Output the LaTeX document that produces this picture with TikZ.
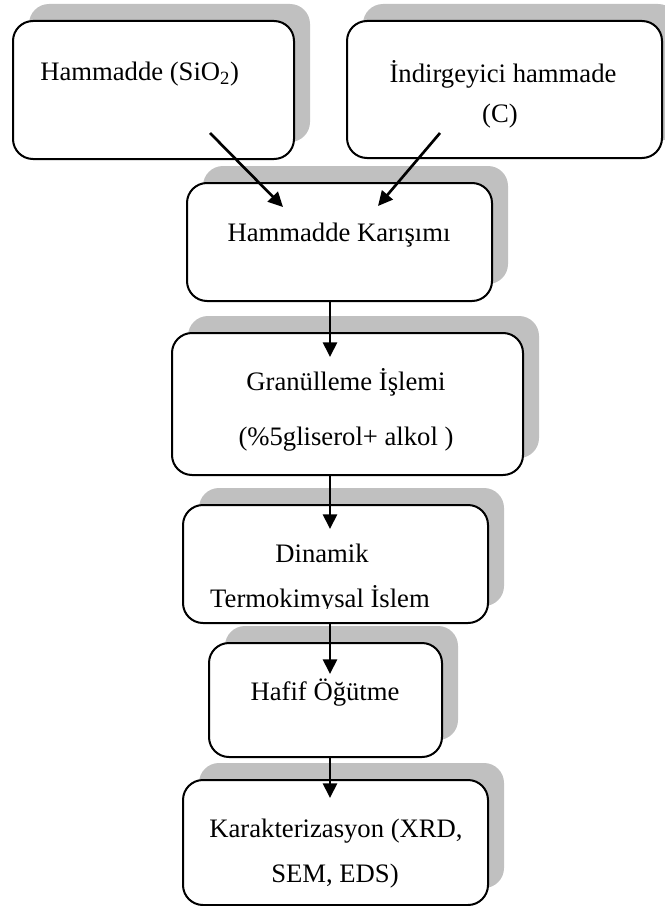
\documentclass[tikz,border=0pt]{standalone}
\usepackage{fontspec}
\setmainfont{Liberation Serif}
\usetikzlibrary{arrows.meta,shadows}
\definecolor{shadowgray}{RGB}{192,192,192}
\tikzset{
  box/.style={draw=black, line width=1.5pt, rounded corners=15pt, fill=white,
    drop shadow={shadow xshift=12pt, shadow yshift=12.75pt, fill=shadowgray, opacity=1}},
  txt/.style={inner sep=0pt, font=\fontsize{20pt}{24pt}\selectfont},
  flow/.style={line width=2pt, -{Triangle[length=11pt,width=10.5pt]}}
}
\begin{document}
\begin{tikzpicture}[x=0.75pt,y=-0.75pt]
\useasboundingbox (0,0) rectangle (664,906);
% boxes
\node[box, minimum width=210.75pt, minimum height=103.5pt] (b1) at (153.5,90) {};
\node[box, minimum width=236.25pt, minimum height=102.75pt] (b2) at (504.5,89.5) {};
\node[box, minimum width=228.75pt, minimum height=88.5pt] (b3) at (339.5,242) {};
\node[box, minimum width=263.25pt, minimum height=106.5pt] (b4) at (347.5,404) {};
\node[box, minimum width=228.75pt, minimum height=88.5pt] (b5) at (335.5,564) {};
\node[box, minimum width=174.75pt, minimum height=85.5pt] (b6) at (325.5,700) {};
\node[box, minimum width=228.75pt, minimum height=93.75pt] (b7) at (335.5,842.5) {};
% texts
\node[txt, anchor=base west] (t1) at (40,80) {Hammadde (SiO\textsubscript{2})};
\node[txt, anchor=base] (t2a) at (503,83) {İndirgeyici hammade};
\node[txt, anchor=base] (t2b) at (500,122) {(C)};
\node[txt, anchor=base] (t3) at (339,241) {Hammadde Karışımı};
\node[txt, anchor=base] (t4a) at (346,390) {Granülleme İşlemi};
\node[txt, anchor=base] (t4b) at (346,445) {(\%5gliserol+ alkol )};
\begin{scope}
  \clip (183,505) rectangle (488,608);
  \node[txt, anchor=base] (t5a) at (322,562) {Dinamik};
  \node[txt, anchor=base] (t5b) at (320,607) {Termokimysal İslem};
\end{scope}
\node[txt, anchor=base] (t6) at (325,700) {Hafif Öğütme};
\node[txt, anchor=base] (t7a) at (336,837) {Karakterizasyon (XRD,};
\node[txt, anchor=base] (t7b) at (335,882) {SEM, EDS)};
% arrow end points
\coordinate (a1s) at (210,133);
\coordinate (a1e) at (283,207);
\coordinate (a2s) at (440,133);
\coordinate (a2e) at (378,206);
\coordinate (a3e) at (330,357);
\coordinate (a4e) at (330,529);
\coordinate (a5e) at (330,674);
\coordinate (a6e) at (330,798);
% connectors
\draw[flow] (a1s) -- (a1e);
\draw[flow] (a2s) -- (a2e);
\draw[flow] (b3.south -| a3e) -- (a3e);
\draw[flow] (b4.south -| a4e) -- (a4e);
\draw[flow] (b5.south -| a5e) -- (a5e);
\draw[flow] (b6.south -| a6e) -- (a6e);
\end{tikzpicture}
\end{document}
